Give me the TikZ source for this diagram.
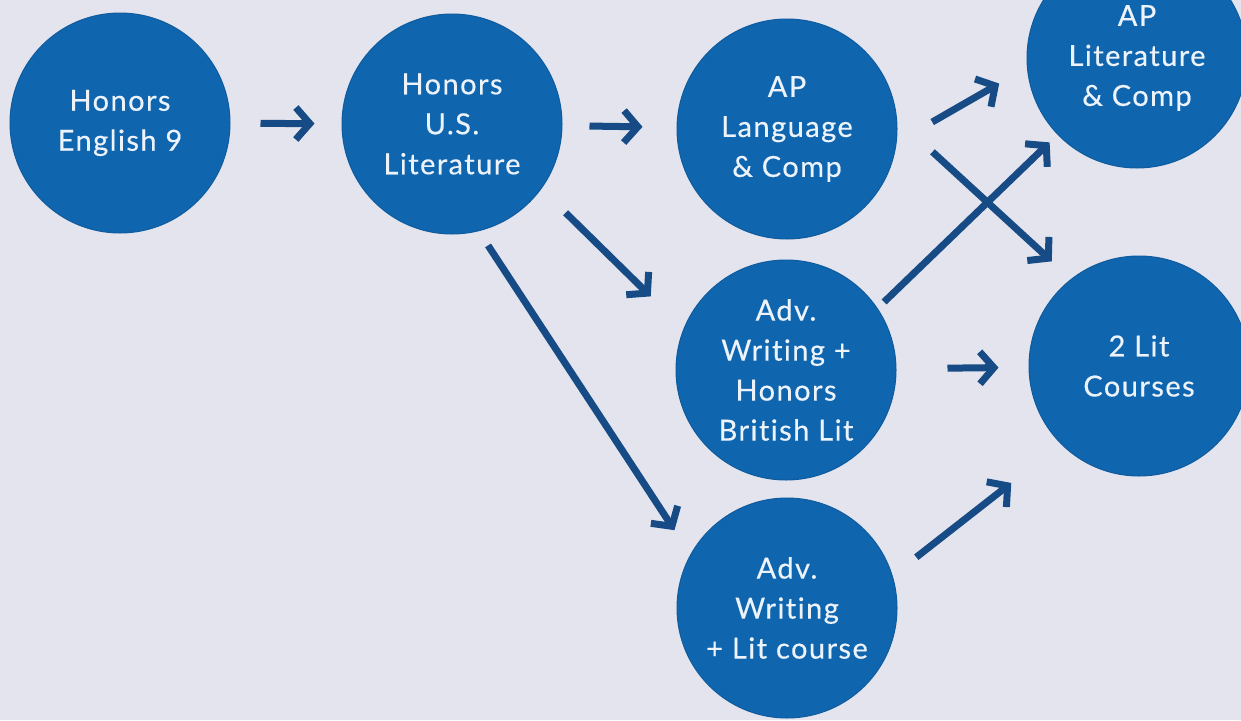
\documentclass[tikz,border=0pt]{standalone}
\usepackage{fontspec}
\setmainfont{Lato}[LetterSpace=5, FakeBold=0.4, Ligatures=NoCommon]
\usepackage{tikz}
\usetikzlibrary{calc}
\usetikzlibrary{arrows.meta}

\definecolor{bgcol}{RGB}{227,228,238}
\definecolor{circcol}{RGB}{16,101,175}
\definecolor{arrcol}{RGB}{22,75,134}
\definecolor{txtcol}{RGB}{236,243,250}

\begin{document}
\begin{tikzpicture}[x=1pt,y=-1pt,
		course/.style={circle, fill=circcol, draw=circcol!90!black, line width=1pt, minimum size=220pt, inner sep=0pt, text=txtcol, align=center, font=\fontsize{29}{40}\selectfont},
		flow/.style={line width=7pt, draw=arrcol, -{Straight Barb[length=14pt,width=32pt]}}]
			\fill[bgcol] (0,0) rectangle (1241,720);
			\useasboundingbox (0,0) rectangle (1241,720);

			\node[course] (eng) at (120,123) {Honors\\English 9};
			\node[course] (us) at ($(eng)+(332,1)$) {Honors\\U.S.\\Literature};
			\node[course] (lang) at ($(us)+(335,5)$) {AP\\Language\\\& Comp};
			\node[course] (aplit) at ($(lang)+(350,-71)$) {AP\\Literature\\\& Comp};
			\node[course] (brit) at ($(lang)+(-1,241)$) {Adv.\\Writing +\\Honors\\British Lit};
			\node[course] (twolit) at ($(brit)+(353,-4)$) {2 Lit\\Courses};
			\node[course] (litc) at ($(brit)+(1,238)$) {Adv.\\Writing\\+ Lit course};

			%anchors, arrows do not touch the circles
			\draw[flow, shorten <=30pt, shorten >=27pt] (eng) -- (us);
			\draw[flow, shorten <=27pt, shorten >=34pt] (us) -- (lang);
			\draw[flow, shorten <=41pt, shorten >=32pt] (lang.-7) -- (aplit.185);
			\draw[flow, shorten <=48pt, shorten >=26pt] (lang.5) -- (twolit.128);
			\draw[flow, shorten <=9pt, shorten >=11pt] (brit.34) -- (aplit.224);
			\draw[flow, shorten <=51pt, shorten >=30pt] (brit) -- (twolit);
			\draw[flow, shorten <=30pt, shorten >=63pt] (litc.17) -- (twolit.225);
			\draw[flow, shorten <=34pt, shorten >=46pt] (us.-36) -- (brit.158);
			\draw[flow, shorten <=17pt, shorten >=29pt] (us.-76) -- (litc.151);

		\end{tikzpicture}
\end{document}
